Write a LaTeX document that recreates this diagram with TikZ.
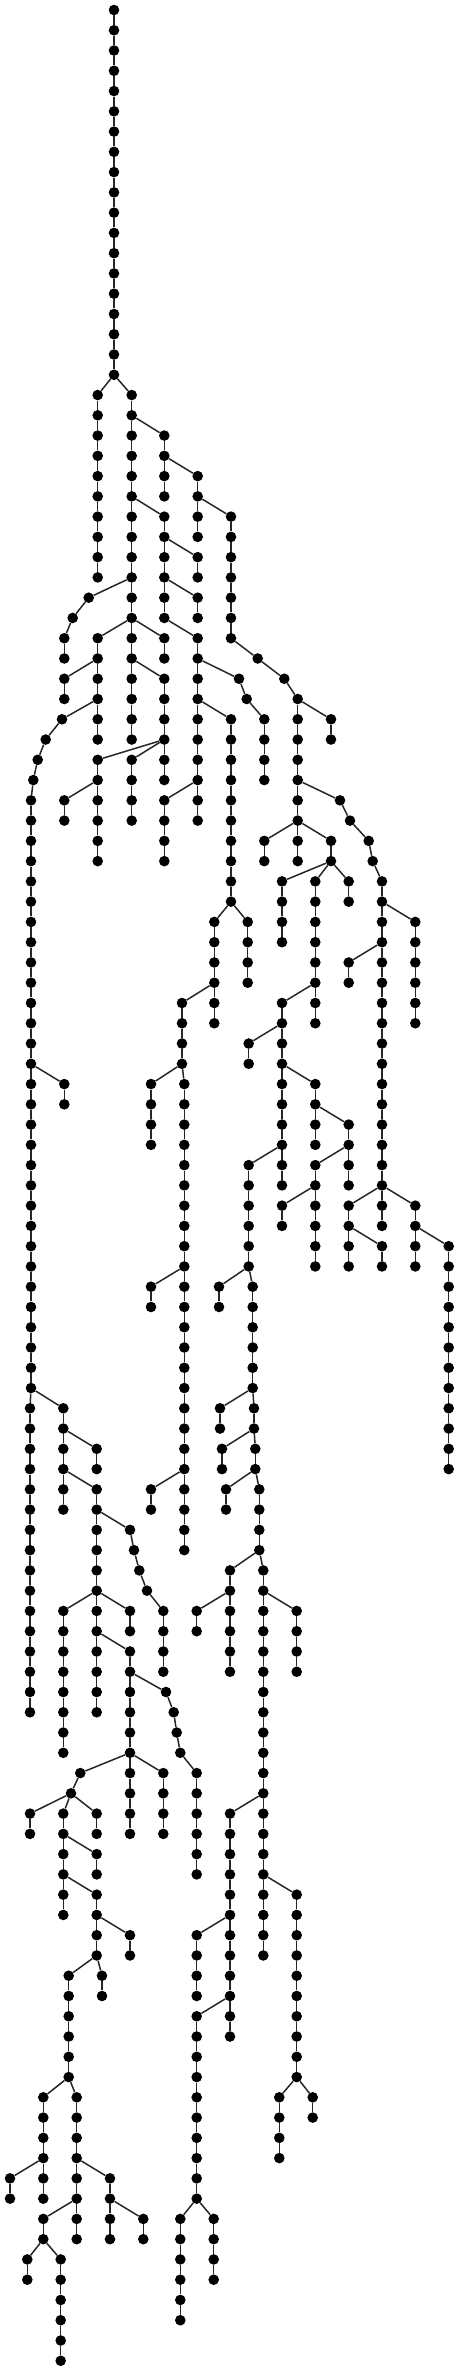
\documentclass[tikz,border=0pt]{standalone}
\tikzset{
  dot/.style={circle, fill=black, inner sep=0pt, minimum size=10.6pt},
  edge/.style={line width=1.5pt, black!85}
}
\newcommand\chain[5]{%
  \foreach \r in {#3,...,#4}{\node[dot] (#1-\r) at (#2,\r) {};}%
  \draw[edge] (#5) -- (#1-#3);%
  \ifnum#3<#4\relax
    \pgfmathtruncatemacro\chstart{#3+1}%
    \foreach \r in {\chstart,...,#4}{\pgfmathtruncatemacro\rp{\r-1}\draw[edge] (#1-\rp) -- (#1-\r);}%
  \fi}
\begin{document}
\begin{tikzpicture}[x=1pt, y=-20.265pt]
\useasboundingbox (0pt,10pt) rectangle (459pt,-2361pt);
% trunk
\foreach \r in {0,...,18}{\node[dot] (T-\r) at (114,\r) {};}
\foreach \r in {1,...,18}{\pgfmathtruncatemacro\rp{\r-1}\draw[edge] (T-\rp) -- (T-\r);}
% upper branches
\chain{A}{97.7}{19}{28}{T-18}
\chain{B}{131.7}{19}{36}{T-18}
\chain{C}{164.3}{21}{24}{B-20}
\chain{D}{197.7}{23}{26}{C-22}
\chain{E}{164.3}{25}{30}{B-24}
\chain{F}{231}{25}{31}{D-24}
\chain{G}{197.7}{27}{28}{E-26}
\chain{H}{197.7}{29}{30}{E-28}
\chain{I}{197.7}{31}{40}{E-30}
\chain{Ja}{239}{33}{33}{I-32}
\chain{Jb}{246.7}{34}{34}{Ja-33}
\chain{Jc}{264.3}{35}{38}{Jb-34}
\chain{K}{231}{35}{44}{I-34}
\chain{L}{214.3}{45}{50}{K-44}
\chain{M}{247.7}{45}{48}{K-44}
\chain{Fa}{257.7}{32}{32}{F-31}
\chain{Fb}{284.3}{33}{33}{Fa-32}
\chain{Fc}{297.7}{34}{40}{Fb-33}
\chain{P}{331}{35}{36}{Fc-34}
\chain{Qa}{340}{39}{39}{Fc-38}
\chain{Qb}{350}{40}{40}{Qa-39}
\chain{Qc}{368.7}{41}{41}{Qb-40}
\chain{Qd}{372.7}{42}{42}{Qc-41}
\chain{Qe}{382}{43}{58}{Qd-42}
\chain{Ra}{264.3}{41}{42}{Fc-40}
\chain{Rb}{297.7}{41}{42}{Fc-40}
\chain{Rc}{331}{41}{42}{Fc-40}
\chain{Sa}{282}{43}{46}{Rc-42}
\chain{Sb}{315.3}{43}{50}{Rc-42}
\chain{Sc}{348.7}{43}{44}{Rc-42}
\chain{V}{415.3}{45}{50}{Qe-44}
\chain{W}{348.7}{47}{48}{Qe-46}
\chain{Xa}{348.7}{59}{62}{Qe-58}
\chain{Xb}{382}{59}{60}{Qe-58}
\chain{Xc}{415.3}{59}{62}{Qe-58}
\chain{Xd}{382}{61}{62}{Xa-60}
\chain{Xe}{448.7}{61}{72}{Xc-60}
\chain{U}{282}{49}{58}{Sb-48}
\chain{Ya}{248.7}{51}{52}{U-50}
\chain{Yb}{315.3}{53}{56}{U-52}
\chain{Yc}{248.7}{57}{62}{U-56}
\chain{Yd}{348.7}{55}{58}{Yb-54}
\chain{Ye}{315.3}{57}{62}{Yd-56}
\chain{Yf}{282}{59}{60}{Ye-58}
\chain{Za}{219}{63}{64}{Yc-62}
\chain{Zb}{252.7}{63}{68}{Yc-62}
\chain{Zc}{220}{69}{70}{Zb-68}
\chain{Zd}{254}{69}{70}{Zb-68}
\chain{Ze}{222}{71}{72}{Zd-70}
\chain{Zf}{255.3}{71}{72}{Zd-70}
\chain{Zg}{226}{73}{74}{Zf-72}
\chain{Zh}{259.3}{73}{76}{Zf-72}
\chain{Zi}{230}{77}{82}{Zh-76}
\chain{Zj}{263.3}{77}{96}{Zh-76}
\chain{Zk}{196.7}{79}{80}{Zi-78}
\chain{Zl}{296.7}{79}{82}{Zj-78}
\chain{Zm}{230}{89}{100}{Zj-88}
\chain{Zn}{296.7}{93}{102}{Zj-92}
\chain{Zo}{196.7}{95}{98}{Zm-94}
\chain{Zp}{196.7}{99}{108}{Zm-98}
\chain{Zq}{180.3}{109}{114}{Zp-108}
\chain{Zr}{213.7}{109}{112}{Zp-108}
\chain{Zs}{279.3}{103}{106}{Zn-102}
\chain{Zt}{312.7}{103}{104}{Zn-102}
\chain{N}{182}{49}{52}{L-48}
\chain{Na}{151}{53}{56}{N-52}
\chain{Nb}{184.3}{53}{76}{N-52}
\chain{Nc}{151}{63}{64}{Nb-62}
\chain{Nd}{151}{73}{74}{Nb-72}
% left side
\chain{Ca}{88.7}{29}{29}{B-28}
\chain{Cb}{72.7}{30}{30}{Ca-29}
\chain{Cc}{64.3}{31}{32}{Cb-30}
\chain{AA}{97.7}{31}{36}{B-30}
\chain{AB}{164.3}{31}{32}{B-30}
\chain{AC}{64.3}{33}{34}{AA-32}
\chain{AD}{164.3}{33}{38}{B-32}
\chain{AE}{97.7}{37}{42}{AD-36}
\chain{AF}{131.7}{37}{40}{AD-36}
\chain{AG}{64.3}{39}{40}{AE-38}
\chain{AH}{164.3}{39}{42}{I-38}
\chain{Ma}{62}{35}{35}{AA-34}
\chain{Mb}{45.7}{36}{36}{Ma-35}
\chain{Mc}{37.7}{37}{37}{Mb-36}
\chain{Md}{33.3}{38}{38}{Mc-37}
\chain{Me}{31}{39}{68}{Md-38}
\chain{Mf}{30}{69}{84}{Me-68}
\chain{LC}{64.3}{53}{54}{Me-52}
\chain{LD}{63.3}{69}{74}{Me-68}
\chain{LE}{96.7}{71}{72}{LD-70}
\chain{LF}{96.7}{73}{78}{LD-72}
\chain{Ta}{130}{75}{75}{LF-74}
\chain{Tb}{134}{76}{76}{Ta-75}
\chain{Tc}{139.3}{77}{77}{Tb-76}
\chain{Td}{147}{78}{78}{Tc-77}
\chain{Te}{163.3}{79}{82}{Td-78}
\chain{LG}{63.3}{79}{86}{LF-78}
\chain{LH}{96.7}{79}{84}{LF-78}
\chain{LI}{130}{79}{80}{LF-78}
\chain{LJ}{130}{81}{86}{LH-80}
\chain{Ua}{166}{83}{83}{LJ-82}
\chain{Ub}{173.7}{84}{84}{Ua-83}
\chain{Uc}{176.7}{85}{85}{Ub-84}
\chain{Ud}{180.3}{86}{86}{Uc-85}
\chain{Ue}{196.7}{87}{92}{Ud-86}
\chain{LK}{80.3}{87}{87}{LJ-86}
\chain{LL}{130}{87}{90}{LJ-86}
\chain{LM}{163.3}{87}{90}{LJ-86}
\chain{LKb}{71}{88}{88}{LK-87}
\chain{LN}{30}{89}{90}{LKb-88}
\chain{LO}{63.3}{89}{94}{LKb-88}
\chain{LP}{96.7}{89}{90}{LKb-88}
\chain{LQ}{96.7}{91}{92}{LO-90}
\chain{LR}{96.7}{93}{96}{LO-92}
\chain{LS}{130}{95}{96}{LR-94}
\chain{LT}{68.7}{97}{102}{LR-96}
\chain{LU}{102}{97}{98}{LR-96}
\chain{LV}{43.3}{103}{108}{LT-102}
\chain{LW}{76.7}{103}{110}{LT-102}
\chain{LX}{10}{107}{108}{LV-106}
\chain{LY}{110}{107}{110}{LW-106}
\chain{LZ}{143.3}{109}{110}{LY-108}
\chain{Ka}{43.3}{109}{110}{LW-108}
\chain{Kb}{27.3}{111}{112}{Ka-110}
\chain{Kc}{60.7}{111}{116}{Ka-110}
\end{tikzpicture}
\end{document}
